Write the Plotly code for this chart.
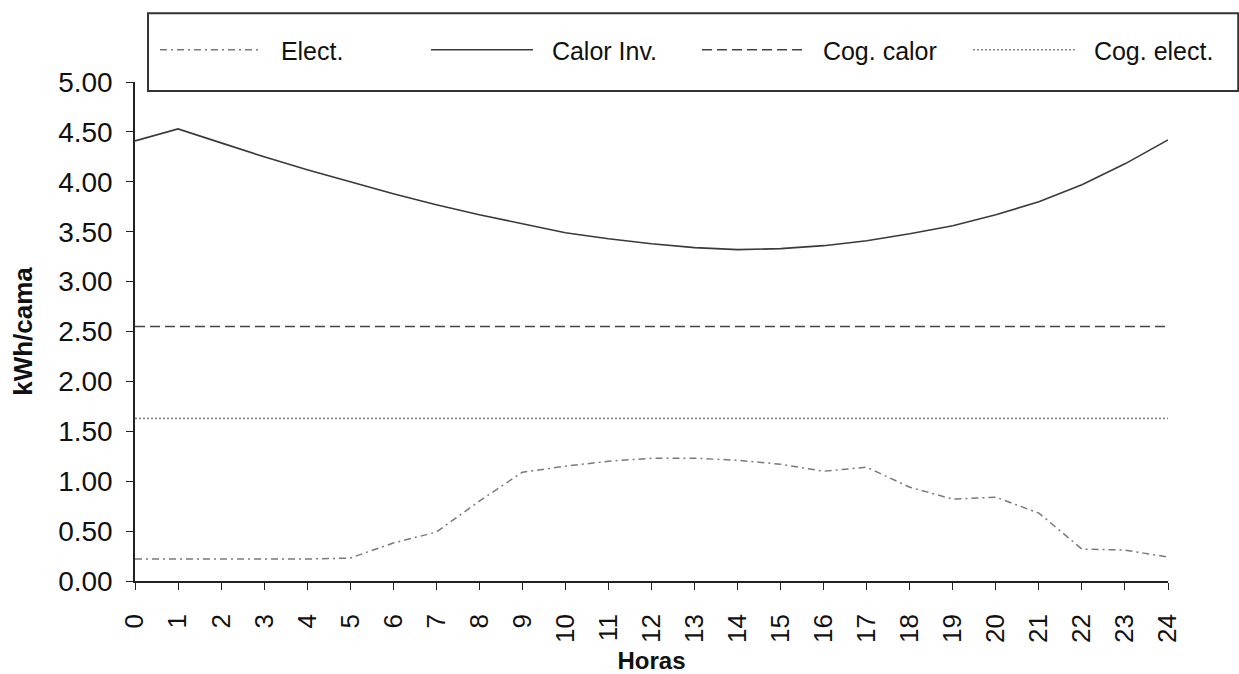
import plotly.graph_objects as go

hours = list(range(25))
hour_labels = [str(h) for h in hours]
elect = [0.22, 0.22, 0.22, 0.22, 0.22, 0.23, 0.38, 0.49, 0.80, 1.09, 1.15, 1.20, 1.23,
         1.23, 1.21, 1.17, 1.10, 1.14, 0.94, 0.82, 0.84, 0.68, 0.32, 0.31, 0.24]
calor_inv = [4.41, 4.53, 4.39, 4.25, 4.12, 4.00, 3.88, 3.77, 3.67, 3.58, 3.49, 3.43, 3.38,
             3.34, 3.32, 3.33, 3.36, 3.41, 3.48, 3.56, 3.67, 3.80, 3.97, 4.18, 4.42]
cog_calor = [2.55, 2.55, 2.55, 2.55, 2.55, 2.55, 2.55, 2.55, 2.55, 2.55, 2.55, 2.55, 2.55,
             2.55, 2.55, 2.55, 2.55, 2.55, 2.55, 2.55, 2.55, 2.55, 2.55, 2.55, 2.55]
cog_elect = [1.63, 1.63, 1.63, 1.63, 1.63, 1.63, 1.63, 1.63, 1.63, 1.63, 1.63, 1.63, 1.63,
             1.63, 1.63, 1.63, 1.63, 1.63, 1.63, 1.63, 1.63, 1.63, 1.63, 1.63, 1.63]
y_ticks = [0, 0.5, 1, 1.5, 2, 2.5, 3, 3.5, 4, 4.5, 5]
y_tick_labels = ["0.00", "0.50", "1.00", "1.50", "2.00", "2.50", "3.00", "3.50", "4.00", "4.50", "5.00"]
series_names = ["Elect.", "Calor Inv.", "Cog. calor", "Cog. elect."]

FONT = "Liberation Sans, Arial, sans-serif"
NB = "\u00a0\u00a0"

fig = go.Figure()
fig.add_trace(go.Scatter(x=hours, y=elect, name=NB + series_names[0], mode="lines",
                         line=dict(color="#7a7a7a", width=1.5, dash="7px,4px,2px,4px")))
fig.add_trace(go.Scatter(x=hours, y=calor_inv, name=NB + series_names[1], mode="lines",
                         line=dict(color="#3a3a3a", width=1.6)))
fig.add_trace(go.Scatter(x=hours, y=cog_calor, name=NB + series_names[2], mode="lines",
                         line=dict(color="#444444", width=1.6, dash="10px,5px")))
fig.add_trace(go.Scatter(x=hours, y=cog_elect, name=NB + series_names[3], mode="lines",
                         line=dict(color="#8a8a8a", width=1.6, dash="2px,2px")))

axis_common = dict(showgrid=False, zeroline=False, linecolor="#222222", linewidth=1.5,
                   tickcolor="#222222", tickwidth=1.3, ticklen=7, automargin=False)

fig.update_layout(
    width=1239, height=674,
    margin=dict(l=135, r=71, t=82, b=93),
    paper_bgcolor="white", plot_bgcolor="white",
    font=dict(family=FONT, color="#111111", size=24),
    xaxis=dict(range=[0, 24], tickvals=hours, ticktext=hour_labels, tickangle=-90,
               ticks="outside", showline=True, tickfont=dict(size=26),
               ticklabelstandoff=14,
               title=dict(text="<b>Horas</b>", font=dict(size=24), standoff=14),
               **axis_common),
    yaxis=dict(range=[0, 5], tickvals=y_ticks, ticktext=y_tick_labels,
               ticks="outside", showline=True, tickfont=dict(size=28),
               ticklabelstandoff=8,
               title=dict(text="<b>kWh/cama</b>", font=dict(size=26), standoff=18),
               **axis_common),
    xaxis2=dict(range=[0, 24], overlaying="x", anchor="y", tickvals=hours, ticks="inside",
                showticklabels=False, showline=False, side="bottom", **axis_common),
    yaxis2=dict(range=[0, 5], overlaying="y", anchor="x", tickvals=y_ticks, ticks="inside",
                showticklabels=False, showline=False, side="left", **axis_common),
    showlegend=True,
    legend=dict(orientation="h", x=-0.001, xanchor="left", y=1.064, yanchor="middle",
                entrywidth=154, entrywidthmode="pixels", itemwidth=102,
                title=dict(text="<span style='color:rgba(0,0,0,0)'>MM</span>",
                           font=dict(size=24), side="left"),
                font=dict(size=25, color="#111111"), bgcolor="rgba(0,0,0,0)",
                borderwidth=0, traceorder="normal"),
    shapes=[dict(type="rect", xref="paper", yref="paper", x0=0.0126, x1=1.068,
                 y0=0.982, y1=1.138, line=dict(color="#333333", width=2),
                 fillcolor="white", layer="below")],
)

fig.write_html("out.html")
